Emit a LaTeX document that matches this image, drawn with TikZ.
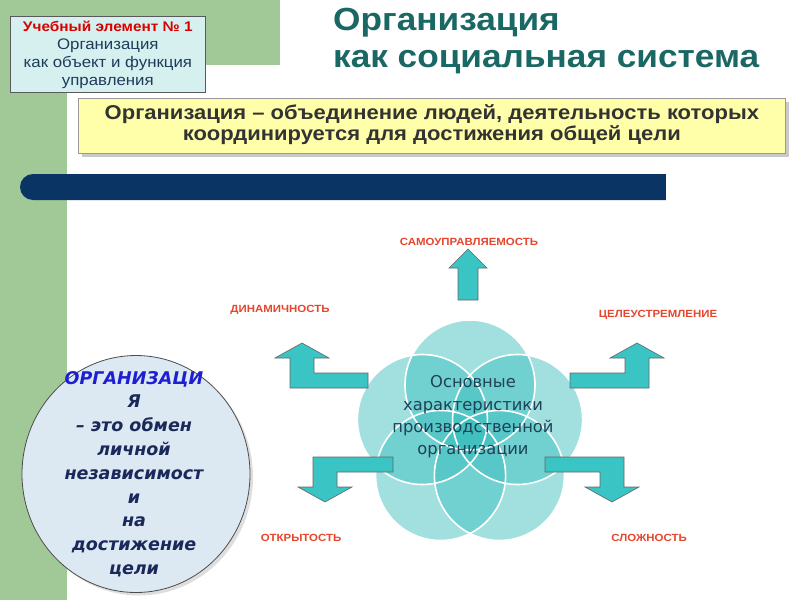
\documentclass[tikz,border=0pt]{standalone}
\usepackage{fontspec}
\setmainfont{Liberation Sans}
\newfontfamily\widesans[FakeStretch=1.1]{Liberation Sans}
\newfontfamily\dvs{DejaVu Sans}
\usetikzlibrary{shadows,shapes.geometric,calc}
\definecolor{bggreen}{RGB}{160,201,151}
\definecolor{boxcyan}{RGB}{214,240,240}
\definecolor{titleteal}{RGB}{26,104,100}
\definecolor{yel}{RGB}{255,255,170}
\definecolor{navybar}{RGB}{10,52,100}
\definecolor{arrteal}{RGB}{58,196,196}
\definecolor{petal}{RGB}{58,190,190}
\definecolor{lblred}{RGB}{230,70,45}
\definecolor{ctext}{RGB}{30,66,86}
\definecolor{circfill}{RGB}{220,232,242}
\definecolor{cblue}{RGB}{30,30,210}
\definecolor{cnavy}{RGB}{26,40,90}
\definecolor{boxtext}{RGB}{30,60,90}
\tikzset{
  blockarrow/.style={fill=arrteal, draw=black!60, line width=0.6pt, line join=miter},
  petalc/.style={fill=petal, fill opacity=0.47, draw=none},
  petaledge/.style={draw=white, line width=1.6pt},
  lbl/.style={text=lblred, font=\widesans\bfseries\fontsize{10.4}{11}\selectfont, inner sep=0pt},
  titletext/.style={text=titleteal, font=\widesans\bfseries\fontsize{32}{38}\selectfont, inner sep=0pt, anchor=base west},
}
\begin{document}
\begin{tikzpicture}[x=1pt,y=-1pt]
\useasboundingbox (0,0) rectangle (800,600);
\fill[white] (0,0) rectangle (800,600);
% green background
\fill[bggreen] (0,0) rectangle (280,65);
\fill[bggreen] (0,0) rectangle (67,600);
% top-left box
\node[draw=black!65, fill=boxcyan, line width=0.7pt, minimum width=195pt, minimum height=76pt, anchor=north west, inner sep=0pt] (ubox) at (10,16) {};
\node[align=center, font=\widesans\fontsize{15.3}{18}\selectfont, text=boxtext] (ubtext) at ($(ubox.center)+(0,1)$)
  {\textcolor{red!85!black}{\bfseries\fontsize{14}{18}\selectfont Учебный элемент № 1}\\Организация\\как объект и функция\\управления};
% title
\node[titletext] (title1) at (333,30) {Организация};
\node[titletext] (title2) at (333,67) {как социальная система};
% yellow box
\node[draw=black!40, fill=yel, line width=0.7pt, minimum width=707pt, minimum height=55pt, anchor=north west, inner sep=0pt,
  drop shadow={shadow xshift=4pt, shadow yshift=-4pt, fill=black!35, opacity=0.6}] (ybox) at (78,98) {};
\node[align=center, font=\widesans\bfseries\fontsize{20}{20.5}\selectfont, text=black!80] (ytext) at ($(ybox.center)+(0,-1)$)
  {Организация – объединение людей, деятельность которых\\координируется для достижения общей цели};
% navy bar
\fill[navybar, rounded corners=13pt] (20,174) rectangle (700,200);
\fill[white] (666,170) rectangle (705,204);
% left circle
\node[ellipse, draw=black!70, fill=circfill, line width=0.8pt, minimum width=228pt, minimum height=237pt, inner sep=0pt,
  drop shadow={shadow xshift=3pt, shadow yshift=-3pt, fill=black!25, opacity=0.5}] (orgc) at (136,474) {};
\node[align=center, font=\dvs\bfseries\itshape\fontsize{17.5}{23.8}\selectfont, text=cnavy] (orgtext) at (134,474)
  {\textcolor{cblue}{ОРГАНИЗАЦИ}\\Я\\– это обмен\\личной\\независимост\\и\\на\\достижение\\цели};
% petals
\coordinate (pa) at (470,385);
\coordinate (pb) at (422.4,419.5);
\coordinate (pe) at (517.6,419.5);
\coordinate (pc) at (440.6,475.5);
\coordinate (pd) at (499.4,475.5);
\foreach \nm in {pa,pb,pc,pd,pe}{ \fill[petalc] (\nm) circle (65); }
\foreach \nm in {pa,pb,pc,pd,pe}{ \draw[petaledge] (\nm) circle (65); }
\node[align=center, font=\dvs\fontsize{16.3}{22.3}\selectfont, text=ctext] (center) at (473,417)
  {Основные\\характеристики\\производственной\\организации};
% arrows
\draw[blockarrow] (458,300) -- (458,268) -- (449,268) -- (468,249) -- (487,268) -- (478,268) -- (478,300) -- cycle;
\draw[blockarrow] (368,373) -- (314,373) -- (314,358) -- (329,358) -- (302,343) -- (275,358) -- (290,358) -- (290,388) -- (368,388) -- cycle;
\draw[blockarrow] (570,373) -- (625,373) -- (625,358) -- (610,358) -- (637,343) -- (664,358) -- (649,358) -- (649,388) -- (570,388) -- cycle;
\draw[blockarrow] (393,457) -- (313,457) -- (313,487) -- (298,487) -- (325,502) -- (352,487) -- (337,487) -- (337,472) -- (393,472) -- cycle;
\draw[blockarrow] (545,457) -- (624,457) -- (624,487) -- (639,487) -- (612,502) -- (585,487) -- (600,487) -- (600,472) -- (545,472) -- cycle;
% labels
\node[lbl] (l1) at (469,242) {САМОУПРАВЛЯЕМОСТЬ};
\node[lbl] (l2) at (280,310) {ДИНАМИЧНОСТЬ};
\node[lbl] (l3) at (658,315) {ЦЕЛЕУСТРЕМЛЕНИЕ};
\node[lbl] (l4) at (301,538) {ОТКРЫТОСТЬ};
\node[lbl] (l5) at (649,538) {СЛОЖНОСТЬ};
\end{tikzpicture}
\end{document}
